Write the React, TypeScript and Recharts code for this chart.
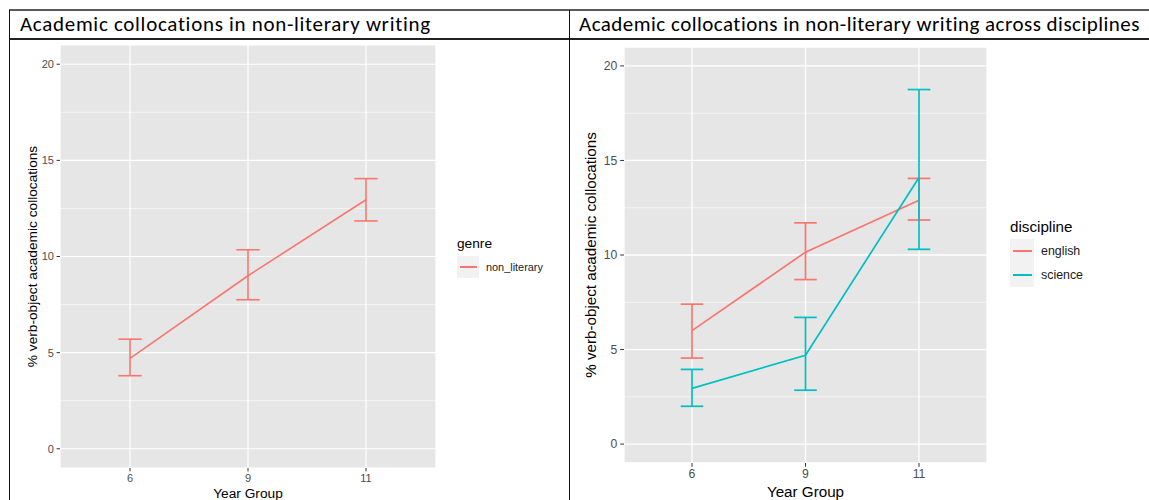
import {
  ComposedChart,
  Line,
  ErrorBar,
  XAxis,
  YAxis,
  CartesianGrid,
} from "recharts";

const years = ["6", "9", "11"];
const yTicks = [0, 5, 10, 15, 20];
const yMinor = [2.5, 7.5, 12.5, 17.5];

const leftTitle = "Academic collocations in non-literary writing";
const rightTitle = "Academic collocations in non-literary writing across disciplines";
const yTitle = "% verb-object academic collocations";
const xTitle = "Year Group";

// genre = non_literary
const nonLiteraryMean = [4.7, 9.0, 12.95];
const nonLiteraryLow = [3.8, 7.75, 11.85];
const nonLiteraryHigh = [5.7, 10.35, 14.05];

// discipline = english / science
const englishMean = [6.0, 10.15, 12.9];
const englishLow = [4.55, 8.7, 11.85];
const englishHigh = [7.4, 11.7, 14.05];

const scienceMean = [2.95, 4.7, 14.1];
const scienceLow = [2.0, 2.85, 10.3];
const scienceHigh = [3.95, 6.7, 18.75];

const RED = "#F8766D";
const TEAL = "#00BFC4";
const PANEL = "#E6E6E6";
const FONT = '"Liberation Sans", Arial, sans-serif';

const err = (mean: number[], low: number[], high: number[], i: number) => [
  mean[i] - low[i],
  high[i] - mean[i],
];

const leftData = years.map((year, i) => ({
  year,
  non_literary: nonLiteraryMean[i],
  nlErr: err(nonLiteraryMean, nonLiteraryLow, nonLiteraryHigh, i),
}));

const rightData = years.map((year, i) => ({
  year,
  english: englishMean[i],
  englishErr: err(englishMean, englishLow, englishHigh, i),
  science: scienceMean[i],
  scienceErr: err(scienceMean, scienceLow, scienceHigh, i),
}));

function KeyLegend({ left, top, title, names, colors, titleSize, labelSize, keySize }: any) {
  return (
    <div style={{ position: "absolute", left, top, fontFamily: FONT }}>
      <div style={{ fontSize: titleSize, lineHeight: `${titleSize + 4}px`, color: "#000" }}>
        {title}
      </div>
      <div style={{ marginTop: 3 }}>
        {names.map((n: string, i: number) => (
          <div key={n} style={{ display: "flex", alignItems: "center", height: keySize }}>
            <div
              style={{
                width: keySize,
                height: keySize,
                background: "#F2F2F2",
                display: "flex",
                alignItems: "center",
                justifyContent: "center",
              }}
            >
              <div style={{ width: keySize - 5, height: 1.6, background: colors[i] }} />
            </div>
            <span style={{ fontSize: labelSize, marginLeft: 7, color: "#1A1A1A" }}>{n}</span>
          </div>
        ))}
      </div>
    </div>
  );
}

const rule = (x: number, y: number, w: number, h: number, c = "#111") => (
  <div style={{ position: "absolute", left: x, top: y, width: w, height: h, background: c }} />
);

const titleStyle = {
  position: "absolute" as const,
  top: 12,
  fontFamily: "Carlito, Lato, sans-serif",
  fontSize: 21,
  lineHeight: "24px",
  whiteSpace: "nowrap" as const,
  color: "#000",
};

export default function App() {
  return (
    <div
      style={{
        position: "absolute",
        left: 0,
        top: 0,
        width: 1149,
        height: 500,
        overflow: "hidden",
        background: "#fff",
        fontFamily: FONT,
      }}
    >
      {/* table borders */}
      {rule(9, 9, 1140, 2, "#5a5a5a")}
      {rule(9, 38, 1140, 1.5, "#222")}
      {rule(9, 10, 1, 490)}
      {rule(569, 10, 1, 490)}

      <div style={{ ...titleStyle, left: 20, letterSpacing: 0.7 }}>{leftTitle}</div>
      <div style={{ ...titleStyle, left: 579, letterSpacing: 0.48 }}>{rightTitle}</div>

      {/* left chart */}
      <div style={{ position: "absolute", left: 10, top: 39 }}>
        <ComposedChart
          width={559}
          height={461}
          data={leftData}
          margin={{ top: 6, right: 133, bottom: 0, left: 0 }}
        >
          <CartesianGrid
            fill={PANEL}
            fillOpacity={1}
            stroke="#FFFFFF"
            strokeWidth={0.6}
            vertical={false}
            horizontalValues={yMinor}
          />
          <CartesianGrid stroke="#FFFFFF" strokeWidth={1.2} />
          <XAxis
            dataKey="year"
            type="category"
            scale="point"
            padding={{ left: 70, right: 70 }}
            height={32}
            axisLine={false}
            tickSize={3.4}
            tickMargin={2.7}
            tickLine={{ stroke: "#333333" }}
            tick={{ fill: "#4D4D4D", fontSize: 11 }}
            interval={0}
            label={{
              value: xTitle,
              position: "insideBottom",
              offset: 2,
              style: { fontSize: 13.7, fill: "#000" },
            }}
          />
          <YAxis
            type="number"
            domain={[-1, 21]}
            ticks={yTicks}
            width={50}
            axisLine={false}
            tickSize={3.4}
            tickMargin={2.7}
            tickLine={{ stroke: "#333333" }}
            tick={{ fill: "#4D4D4D", fontSize: 11 }}
            interval={0}
            label={{
              value: yTitle,
              angle: -90,
              position: "insideLeft",
              offset: 22,
              style: { fontSize: 13.7, fill: "#000", textAnchor: "middle" },
            }}
          />
          <Line
            dataKey="non_literary"
            stroke={RED}
            strokeWidth={1.6}
            dot={false}
            activeDot={false}
            isAnimationActive={false}
          >
            <ErrorBar dataKey="nlErr" width={11.7} stroke={RED} strokeWidth={1.6} isAnimationActive={false} />
          </Line>
        </ComposedChart>
      </div>

      <KeyLegend
        left={457}
        top={235}
        title="genre"
        names={["non_literary"]}
        colors={[RED]}
        titleSize={13.7}
        labelSize={10.9}
        keySize={22}
      />

      {/* right chart */}
      <div style={{ position: "absolute", left: 570, top: 39 }}>
        <ComposedChart
          width={579}
          height={461}
          data={rightData}
          margin={{ top: 8, right: 162, bottom: 0, left: 0 }}
        >
          <CartesianGrid
            fill={PANEL}
            fillOpacity={1}
            stroke="#FFFFFF"
            strokeWidth={0.6}
            vertical={false}
            horizontalValues={yMinor}
          />
          <CartesianGrid stroke="#FFFFFF" strokeWidth={1.3} />
          <XAxis
            dataKey="year"
            type="category"
            scale="point"
            padding={{ left: 68, right: 68 }}
            height={37}
            axisLine={false}
            tickSize={3.8}
            tickMargin={3}
            tickLine={{ stroke: "#333333" }}
            tick={{ fill: "#4D4D4D", fontSize: 12.2 }}
            interval={0}
            label={{
              value: xTitle,
              position: "insideBottom",
              offset: 2.6,
              style: { fontSize: 15.2, fill: "#000" },
            }}
          />
          <YAxis
            type="number"
            domain={[-1, 21]}
            ticks={yTicks}
            width={54}
            axisLine={false}
            tickSize={3.8}
            tickMargin={3}
            tickLine={{ stroke: "#333333" }}
            tick={{ fill: "#4D4D4D", fontSize: 12.2 }}
            interval={0}
            label={{
              value: yTitle,
              angle: -90,
              position: "insideLeft",
              offset: 20.6,
              style: { fontSize: 15.2, fill: "#000", textAnchor: "middle" },
            }}
          />
          <Line
            dataKey="english"
            stroke={RED}
            strokeWidth={1.7}
            dot={false}
            activeDot={false}
            isAnimationActive={false}
          >
            <ErrorBar dataKey="englishErr" width={11.3} stroke={RED} strokeWidth={1.7} isAnimationActive={false} />
          </Line>
          <Line
            dataKey="science"
            stroke={TEAL}
            strokeWidth={1.7}
            dot={false}
            activeDot={false}
            isAnimationActive={false}
          >
            <ErrorBar dataKey="scienceErr" width={11.3} stroke={TEAL} strokeWidth={1.7} isAnimationActive={false} />
          </Line>
        </ComposedChart>
      </div>

      <KeyLegend
        left={1010}
        top={217}
        title="discipline"
        names={["english", "science"]}
        colors={[RED, TEAL]}
        titleSize={15.2}
        labelSize={12.4}
        keySize={24}
      />
    </div>
  );
}
